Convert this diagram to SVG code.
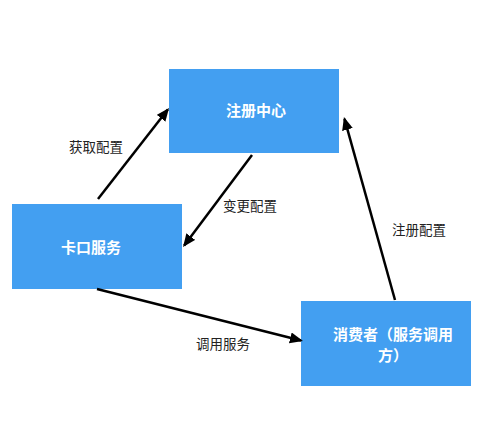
<svg xmlns="http://www.w3.org/2000/svg" width="497" height="448" viewBox="0 0 497 448">
<style>
.box{fill:#439ff1}
.nt{font-family:"Noto Sans CJK SC","Noto Sans",sans-serif;font-size:15px;font-weight:bold;fill:#ffffff;text-anchor:middle}
.lb{font-family:"Noto Sans CJK SC","Noto Sans",sans-serif;font-size:13.5px;fill:#222222;text-anchor:middle}
.ln{stroke:#000;stroke-width:2.5;fill:none;marker-end:url(#ah)}
</style>
<defs>
<marker id="ah" markerUnits="userSpaceOnUse" markerWidth="14" markerHeight="12" refX="11" refY="5.5" orient="auto">
<path d="M0,0 L13,5.5 L0,11 z" fill="#000"/>
</marker>
</defs>
<rect width="497" height="448" fill="#fff"/>
<g id="registry">
<rect class="box" x="169" y="69" width="170" height="84"/>
<text class="nt" x="256" y="116">注册中心</text>
</g>
<g id="checkpoint">
<rect class="box" x="12" y="204" width="170" height="85"/>
<text class="nt" x="91" y="253">卡口服务</text>
</g>
<g id="consumer">
<rect class="box" x="301" y="301" width="170" height="85"/>
<text class="nt" x="393" y="340">消费者（服务调用</text>
<text class="nt" x="393" y="361">方）</text>
</g>
<g id="connectors">
<path class="ln" d="M98,199 L167.8,109.6"/>
<path class="ln" d="M252,155 L184.2,245.4"/>
<path class="ln" d="M395,300 L344.5,118.9"/>
<path class="ln" d="M97,289 L301,340.5"/>
<text class="lb" x="96" y="152">获取配置</text>
<text class="lb" x="250" y="211">变更配置</text>
<text class="lb" x="419" y="235">注册配置</text>
<text class="lb" x="223" y="349">调用服务</text>
</g>
</svg>
